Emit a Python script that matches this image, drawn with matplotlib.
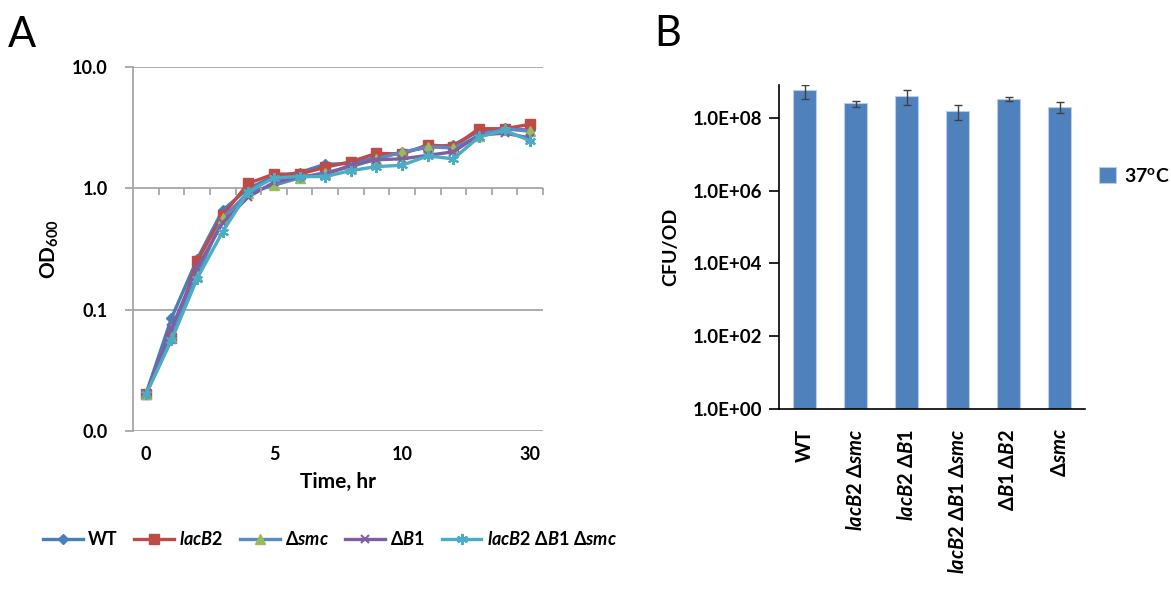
import matplotlib
matplotlib.use("Agg")
import matplotlib.pyplot as plt
import numpy as np
from matplotlib.ticker import FixedLocator, NullLocator

plt.rcParams['font.family'] = ['Lato', 'DejaVu Sans']
plt.rcParams['font.weight'] = 'bold'
plt.rcParams['axes.labelweight'] = 'bold'
plt.rcParams['mathtext.fontset'] = 'custom'
plt.rcParams['mathtext.it'] = 'Lato:italic:bold'
plt.rcParams['mathtext.bf'] = 'Lato:bold'
plt.rcParams['mathtext.rm'] = 'Lato:bold'

# ---------------- Panel A data ----------------
time_labels = ['0', '1', '2', '3', '4', '5', '6', '7', '8', '9', '10', '11', '12', '13', '14', '30']
shown_time_labels = ['0', '5', '10', '30']
od_wt =    [0.02, 0.085, 0.26, 0.66, 1.00, 1.25, 1.35, 1.58, 1.60, 1.80, 1.98, 2.18, 2.28, 2.95, 3.15, 3.00]
od_lacb2 = [0.02, 0.058, 0.25, 0.60, 1.10, 1.31, 1.31, 1.49, 1.66, 1.94, 1.92, 2.28, 2.20, 3.10, 3.10, 3.37]
od_smc =   [0.02, 0.060, 0.19, 0.57, 0.92, 1.06, 1.22, 1.35, 1.50, 1.75, 1.98, 2.20, 2.15, 2.70, 3.10, 2.95]
od_b1 =    [0.02, 0.070, 0.22, 0.52, 0.85, 1.12, 1.25, 1.30, 1.55, 1.72, 1.75, 1.87, 2.00, 2.75, 2.85, 2.60]
od_triple =[0.02, 0.056, 0.18, 0.44, 0.94, 1.22, 1.25, 1.25, 1.40, 1.51, 1.55, 1.85, 1.75, 2.65, 3.00, 2.47]
series_names = ['WT', r'$\mathit{lacB2}$', r'Δ$\mathit{smc}$', r'Δ$\mathit{B1}$',
                r'$\mathit{lacB2}$ Δ$\mathit{B1}$ Δ$\mathit{smc}$']
od_ticks = [0.01, 0.1, 1.0, 10.0]
od_tick_labels = ['0.0', '0.1', '1.0', '10.0']

# ---------------- Panel B data ----------------
strains = ['WT', r'$\mathit{lacB2}$ Δ$\mathit{smc}$', r'$\mathit{lacB2}$ Δ$\mathit{B1}$',
           r'$\mathit{lacB2}$ Δ$\mathit{B1}$ Δ$\mathit{smc}$', r'Δ$\mathit{B1}$ Δ$\mathit{B2}$', r'Δ$\mathit{smc}$']
cfu = [5.7e8, 2.5e8, 4.0e8, 1.55e8, 3.3e8, 2.0e8]
cfu_err = [2.3e8, 0.5e8, 1.8e8, 0.68e8, 0.4e8, 0.67e8]
cfu_ticks = [1e0, 1e2, 1e4, 1e6, 1e8]
cfu_tick_labels = ['1.0E+00', '1.0E+02', '1.0E+04', '1.0E+06', '1.0E+08']

W, H = 1171, 593
fig = plt.figure(figsize=(W / 100, H / 100), dpi=100)

def ax_rect(x0, y0, x1, y1):
    return [x0 / W, 1 - y1 / H, (x1 - x0) / W, (y1 - y0) / H]

# ================= Panel A =================
axA = fig.add_axes(ax_rect(133, 67, 543, 431))
grid_c = '#A6A6A6'
styles = [
    dict(color='#4A7EBB', marker='D', mfc='#4A7EBB', mec='#4A7EBB', ms=5.5),
    dict(color='#BE4B48', marker='s', mfc='#BE4B48', mec='#BE4B48', ms=7),
    dict(color='#5A8AC6', marker='^', mfc='#9BBB59', mec='#9BBB59', ms=7),
    dict(color='#7D60A0', marker='x', mfc='#7D60A0', mec='#7D60A0', ms=6, mew=1.5),
    dict(color='#4BACC6', marker=(6, 2, 0), mfc='#4BACC6', mec='#4BACC6', ms=8, mew=1.5),
]
xs = np.arange(len(time_labels))
for ys, name, st in zip([od_wt, od_lacb2, od_smc, od_b1, od_triple], series_names, styles):
    axA.plot(xs, ys, lw=2.4, label=name, **st)

axA.set_yscale('log')
axA.set_ylim(0.01, 10)
axA.set_xlim(-0.5, len(time_labels) - 0.5)
axA.yaxis.set_major_locator(FixedLocator(od_ticks))
axA.yaxis.set_minor_locator(NullLocator())
axA.set_yticklabels(od_tick_labels)
axA.grid(axis='y', color=grid_c, lw=1.3)
axA.set_axisbelow(True)
for s in ['top', 'right', 'bottom']:
    axA.spines[s].set_visible(False)
axA.spines['left'].set_color(grid_c)
axA.spines['left'].set_linewidth(1.3)
axA.tick_params(axis='y', colors=grid_c, length=6, width=1.3, pad=12, labelsize=13, labelcolor='black')
tick_idx = [time_labels.index(t) for t in shown_time_labels]
axA.set_xticks(tick_idx)
axA.set_xticklabels(shown_time_labels)
axA.tick_params(axis='x', length=0, pad=11, labelsize=13)
# Excel-style category tick marks hanging from the 1.0 line
bounds = np.arange(1, len(time_labels) + 1) - 0.5
axA.vlines(bounds, 1.0 * 10 ** (-7 / 121.3), 1.0, color=grid_c, lw=1.3, clip_on=False)
axA.set_xlabel('Time, hr', fontsize=15, labelpad=6)
axA.set_ylabel(r'OD$_{600}$', fontsize=15, labelpad=8)

fig.legend(*axA.get_legend_handles_labels(), loc='center', bbox_to_anchor=(330 / W, 1 - 539 / H),
           ncol=5, frameon=False, fontsize=13, handlelength=2.2, handletextpad=0.3,
           columnspacing=0.9)

# ================= Panel B =================
axB = fig.add_axes(ax_rect(779, 85, 1085, 409))
bx = np.arange(len(strains))
axB.bar(bx, cfu, width=0.46, color='#4F81BD', edgecolor='#B9CDE5', linewidth=0.8,
        yerr=cfu_err, error_kw=dict(ecolor='#404040', elinewidth=1.0, capsize=3, capthick=1.0),
        label=r'37$^{\mathbf{o}}$C', zorder=2)
axB.set_yscale('log')
axB.set_ylim(1, 8e8)
axB.set_xlim(-0.5, len(strains) - 0.5)
axB.yaxis.set_major_locator(FixedLocator(cfu_ticks))
axB.yaxis.set_minor_locator(NullLocator())
axB.set_yticklabels(cfu_tick_labels)
axB.tick_params(axis='y', length=7, width=1.2, pad=5, labelsize=13.5)
axB.set_xticks(bx)
axB.set_xticklabels(strains, rotation=90, va='top', ha='center')
axB.tick_params(axis='x', length=0, pad=14, labelsize=14.5)
for s in ['top', 'right']:
    axB.spines[s].set_visible(False)
for s in ['left', 'bottom']:
    axB.spines[s].set_linewidth(1.2)
axB.set_ylabel('CFU/OD', fontsize=14, labelpad=10)
axB.legend(loc='center left', bbox_to_anchor=(1.0, 0.72), borderaxespad=0.3, frameon=False,
           fontsize=14, handlelength=0.9, handleheight=0.9, handletextpad=0.4)

# Panel letters
fig.text(8 / W, 1 - 47 / H, 'A', fontsize=30, fontweight='normal', va='baseline')
fig.text(654 / W, 1 - 46 / H, 'B', fontsize=30, fontweight='normal', va='baseline')

fig.savefig('out.png', dpi=100)
